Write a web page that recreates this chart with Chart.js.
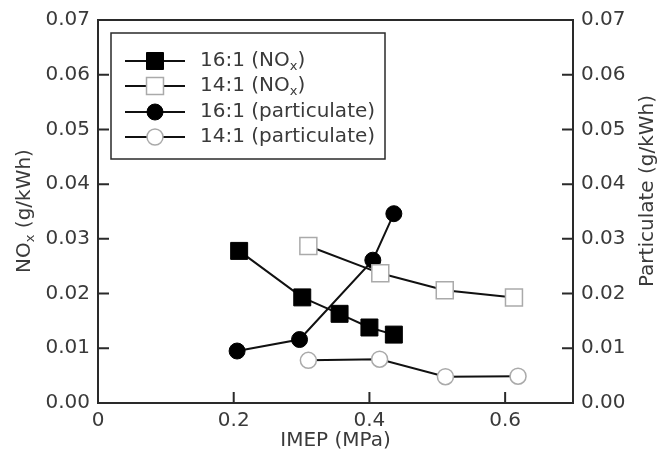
<!DOCTYPE html>
<html>
<head>
<meta charset="utf-8">
<script src="https://cdn.jsdelivr.net/npm/chart.js@4"></script>
<style>
  body { margin: 0; background: #fff; }
  #wrap { width: 665px; height: 457px; }
</style>
</head>
<body>
<div id="wrap"><canvas id="myChart" width="665" height="457"></canvas></div>
<script>
// data
var xTicks = [0, 0.2, 0.4, 0.6];
var yTicks = [0, 0.01, 0.02, 0.03, 0.04, 0.05, 0.06, 0.07];

var nox16X = [0.208, 0.301, 0.356, 0.400, 0.436];
var nox16Y = [0.0278, 0.0193, 0.0163, 0.0138, 0.0125];
var nox14X = [0.310, 0.416, 0.511, 0.613];
var nox14Y = [0.0287, 0.0237, 0.0206, 0.0193];
var part16X = [0.205, 0.297, 0.405, 0.436];
var part16Y = [0.0095, 0.0116, 0.0261, 0.0346];
var part14X = [0.310, 0.415, 0.512, 0.619];
var part14Y = [0.0078, 0.0080, 0.0048, 0.0049];

var FONT = '"DejaVu Sans", Arial, sans-serif';
var TEXT = '#3a3a3a';
var AXIS = '#2a2a2a';

function pts(xs, ys) {
    return xs.map(function (x, i) { return { x: x, y: ys[i] }; });
}

// draws text, putting the x of "NOx" as a subscript
function drawSubText(ctx, text, x, y, size) {
    var parts = text.split('NOx');
    ctx.textAlign = 'left';
    ctx.textBaseline = 'middle';
    for (var i = 0; i < parts.length; i++) {
        ctx.font = size + 'px ' + FONT;
        ctx.fillText(parts[i], x, y);
        x += ctx.measureText(parts[i]).width;
        if (i < parts.length - 1) {
            ctx.fillText('NO', x, y);
            x += ctx.measureText('NO').width;
            ctx.font = Math.round(size * 0.65) + 'px ' + FONT;
            ctx.fillText('x', x, y + size * 0.3);
            x += ctx.measureText('x').width;
        }
    }
    return x;
}

function measureSub(ctx, text, size) {
    ctx.save();
    ctx.globalAlpha = 0;
    var w = drawSubText(ctx, text, 0, 0, size);
    ctx.restore();
    return w;
}

var decorPlugin = {
    id: 'decor',
    afterDraw: function (chart) {
        var ctx = chart.ctx;
        var a = chart.chartArea;
        var xs = chart.scales.x, yl = chart.scales.y, yr = chart.scales.y2;
        var tl = 11;
        ctx.save();
        ctx.strokeStyle = AXIS;
        ctx.lineWidth = 2;
        ctx.beginPath();
        // top frame
        ctx.moveTo(a.left, a.top);
        ctx.lineTo(a.right, a.top);
        // inward tick marks
        xTicks.forEach(function (v) {
            if (v === 0) return;
            var px = xs.getPixelForValue(v);
            ctx.moveTo(px, a.bottom);
            ctx.lineTo(px, a.bottom - tl);
        });
        yTicks.forEach(function (v, i) {
            if (i === 0 || i === yTicks.length - 1) return;
            var py = yl.getPixelForValue(v);
            ctx.moveTo(a.left, py);
            ctx.lineTo(a.left + tl, py);
            var pr = yr.getPixelForValue(v);
            ctx.moveTo(a.right, pr);
            ctx.lineTo(a.right - tl, pr);
        });
        ctx.stroke();

        // y titles
        ctx.fillStyle = TEXT;
        var size = 20;
        ctx.save();
        ctx.translate(25, 211);
        ctx.rotate(-Math.PI / 2);
        var w = measureSub(ctx, 'NOx (g/kWh)', size);
        drawSubText(ctx, 'NOx (g/kWh)', -w / 2, 0, size);
        ctx.restore();
        ctx.save();
        ctx.translate(648, 191);
        ctx.rotate(-Math.PI / 2);
        w = measureSub(ctx, 'Particulate (g/kWh)', size);
        drawSubText(ctx, 'Particulate (g/kWh)', -w / 2, 0, size);
        ctx.restore();

        // legend box
        ctx.lineWidth = 1.5;
        ctx.strokeStyle = AXIS;
        ctx.strokeRect(111, 33, 274, 126);
        var rows = [61, 86, 112, 137];
        chart.data.datasets.forEach(function (ds, i) {
            var y = rows[i];
            ctx.strokeStyle = '#111';
            ctx.lineWidth = 2;
            ctx.beginPath();
            ctx.moveTo(125, y);
            ctx.lineTo(185, y);
            ctx.stroke();
            ctx.fillStyle = ds.pointBackgroundColor;
            ctx.strokeStyle = ds.pointBorderColor;
            ctx.lineWidth = ds.pointBorderWidth;
            Chart.helpers.drawPoint(ctx, {
                pointStyle: ds.pointStyle,
                radius: ds.pointRadius,
                borderWidth: ds.pointBorderWidth,
                rotation: 0
            }, 155, y);
            ctx.fillStyle = TEXT;
            drawSubText(ctx, ds.label, 200, y, size);
        });
        ctx.restore();
    }
};

var ctx = document.getElementById('myChart').getContext('2d');

var myChart = new Chart(ctx, {
    type: 'scatter',
    data: {
        datasets: [{
            label: '16:1 (NOx)',
            data: pts(nox16X, nox16Y),
            yAxisID: 'y',
            showLine: true,
            borderColor: '#111',
            borderWidth: 2,
            pointStyle: 'rect',
            pointRadius: 12,
            pointBackgroundColor: '#000',
            pointBorderColor: '#000',
            pointBorderWidth: 1
        }, {
            label: '14:1 (NOx)',
            data: pts(nox14X, nox14Y),
            yAxisID: 'y',
            showLine: true,
            borderColor: '#111',
            borderWidth: 2,
            pointStyle: 'rect',
            pointRadius: 12,
            pointBackgroundColor: '#fff',
            pointBorderColor: '#aaa',
            pointBorderWidth: 1.5
        }, {
            label: '16:1 (particulate)',
            data: pts(part16X, part16Y),
            yAxisID: 'y2',
            showLine: true,
            borderColor: '#111',
            borderWidth: 2,
            pointStyle: 'circle',
            pointRadius: 8,
            pointBackgroundColor: '#000',
            pointBorderColor: '#000',
            pointBorderWidth: 1
        }, {
            label: '14:1 (particulate)',
            data: pts(part14X, part14Y),
            yAxisID: 'y2',
            showLine: true,
            borderColor: '#111',
            borderWidth: 2,
            pointStyle: 'circle',
            pointRadius: 8,
            pointBackgroundColor: '#fff',
            pointBorderColor: '#aaa',
            pointBorderWidth: 1.5
        }]
    },
    options: {
        responsive: false,
        animation: false,
        devicePixelRatio: 1,
        layout: { padding: { top: 19, left: 0, right: 0, bottom: 0 } },
        plugins: {
            legend: { display: false },
            tooltip: { enabled: false }
        },
        scales: {
            x: {
                type: 'linear',
                min: 0,
                max: 0.7,
                afterBuildTicks: function (s) { s.ticks = xTicks.map(function (v) { return { value: v }; }); },
                afterFit: function (s) { s.height = 54; },
                grid: { display: false, drawTicks: false },
                border: { display: true, color: AXIS, width: 2 },
                ticks: {
                    padding: 6,
                    color: TEXT,
                    font: { family: FONT, size: 20 },
                    maxRotation: 0,
                    callback: function (v) { return v === 0 ? '0' : v.toFixed(1); }
                },
                title: {
                    display: true,
                    text: 'IMEP (MPa)',
                    color: TEXT,
                    font: { family: FONT, size: 20 },
                    padding: { top: 0, bottom: 4 }
                }
            },
            y: {
                position: 'left',
                min: 0,
                max: 0.07,
                afterBuildTicks: function (s) { s.ticks = yTicks.map(function (v) { return { value: v }; }); },
                afterFit: function (s) { s.width = 98; },
                grid: { display: false, drawTicks: false },
                border: { display: true, color: AXIS, width: 2 },
                ticks: {
                    padding: 8,
                    color: TEXT,
                    font: { family: FONT, size: 20 },
                    callback: function (v) { return v.toFixed(2); }
                }
            },
            y2: {
                position: 'right',
                min: 0,
                max: 0.07,
                afterBuildTicks: function (s) { s.ticks = yTicks.map(function (v) { return { value: v }; }); },
                afterFit: function (s) { s.width = 92; },
                grid: { display: false, drawTicks: false },
                border: { display: true, color: AXIS, width: 2 },
                ticks: {
                    padding: 8,
                    color: TEXT,
                    font: { family: FONT, size: 20 },
                    callback: function (v) { return v.toFixed(2); }
                }
            }
        }
    },
    plugins: [decorPlugin]
});
</script>
</body>
</html>
